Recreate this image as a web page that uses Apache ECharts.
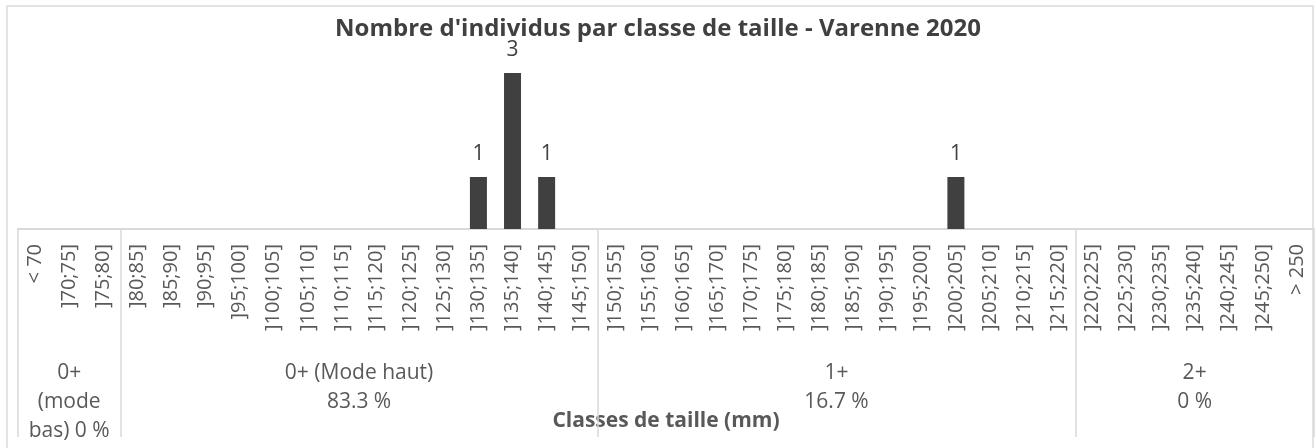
<!DOCTYPE html>
<html>
<head>
<meta charset="utf-8">
<script src="https://cdn.jsdelivr.net/npm/echarts@6/dist/echarts.min.js"></script>
<style>
	html, body { margin: 0; padding: 0; background: #fff; }
	.frame { position: absolute; left: 6px; top: 5px; width: 1308px; height: 460px; border: 2px solid #e3e3e3; box-sizing: border-box; }
	#chart { position: absolute; left: 0; top: 0; width: 1316px; height: 448px; }
</style>
</head>
<body>
<div class="frame"></div>
<div id="chart"></div>
<script>
// classes de taille (mm)
const categories = ['< 70'];
for (let a = 70; a < 250; a += 5) categories.push(']' + a + ';' + (a + 5) + ']');
categories.push('> 250');

// nombre d'individus par classe
const counts = [
	0, 0, 0,
	0, 0, 0, 0, 0, 0, 0, 0, 0, 0, 1, 3, 1, 0,
	0, 0, 0, 0, 0, 0, 0, 0, 0, 0, 1, 0, 0, 0,
	0, 0, 0, 0, 0, 0, 0,
];

// groupes d'age : nombre de classes couvertes, libelle, pourcentage
const groupSizes = [3, 14, 14, 7];
const groupNames = ['0+\n(mode\nbas)', '0+ (Mode haut)', '1+', '2+'];
const groupPercents = ['0 %', '83.3 %', '16.7 %', '0 %'];

const bounds = [0];
groupSizes.forEach(n => bounds.push(bounds[bounds.length - 1] + n));
const centers = groupSizes.map((n, i) => bounds[i] + n / 2);

const font = '"Open Sans", "DejaVu Sans", sans-serif';
const myChart = echarts.init(document.getElementById('chart'));
const option = {
	animation: false,
	textStyle: { fontFamily: font },
	title: {
		text: "Nombre d'individus par classe de taille - Varenne 2020",
		left: 'center',
		top: 12,
		textStyle: { fontSize: 24, fontWeight: 'bold', color: '#404040', fontFamily: font },
	},
	grid: { left: 18, right: 2, top: 21, bottom: 219 },
	xAxis: [
		{
			type: 'category',
			data: categories,
			axisLine: { lineStyle: { color: '#d9d9d9', width: 2 } },
			axisTick: { show: false },
			axisLabel: { rotate: 90, interval: 0, margin: 15, fontSize: 20, color: '#595959' },
			name: 'Classes de taille (mm)',
			nameLocation: 'middle',
			nameGap: 182,
			nameTextStyle: { fontSize: 21, fontWeight: 'bold', color: '#595959' },
		},
		{
			type: 'value',
			min: 0,
			max: categories.length,
			position: 'bottom',
			axisLine: { show: false },
			splitLine: { show: false },
			axisTick: {
				show: true,
				customValues: bounds,
				length: 208,
				lineStyle: { color: '#d9d9d9', width: 1.5 },
			},
			axisLabel: {
				customValues: centers,
				margin: 130,
				fontSize: 21,
				lineHeight: 29,
				color: '#595959',
				formatter: v => {
					const i = centers.indexOf(v);
					if (i < 0) return '';
					return i === 0 ? groupNames[i] + ' ' + groupPercents[i] : groupNames[i] + '\n' + groupPercents[i];
				},
			},
		},
	],
	yAxis: { type: 'value', min: 0, max: 4, show: false },
	series: [
		{
			type: 'bar',
			xAxisIndex: 0,
			data: counts.map(v => (v === 0 ? null : v)),
			barWidth: 17,
			itemStyle: { color: '#404040' },
			label: { show: true, position: 'top', distance: 12, fontSize: 21, color: '#404040' },
		},
	],
};
myChart.setOption(option);
</script>
</body>
</html>
